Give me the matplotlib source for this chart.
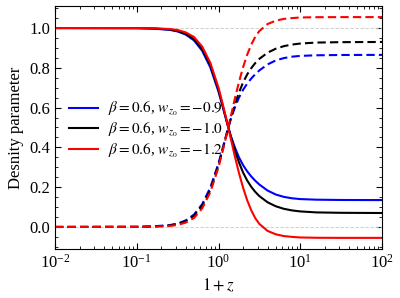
import numpy as np
import matplotlib
matplotlib.use("Agg")
import matplotlib.pyplot as plt
from matplotlib.ticker import MultipleLocator

plt.rcParams['font.family'] = ['Liberation Serif', 'DejaVu Serif']
plt.rcParams['mathtext.fontset'] = 'stix'

# log10(1+z) sample points
log_1pz = [-2.0, -1.0, -0.8, -0.6, -0.5, -0.4, -0.3, -0.2, -0.1, 0.0, 0.05,
           0.1, 0.15, 0.2, 0.25, 0.3, 0.35, 0.4, 0.45, 0.5, 0.6, 0.7, 0.8,
           0.9, 1.0, 1.2, 1.5, 2.0]

# solid: dark energy density parameter
de_m09 = [1.0, 0.9993, 0.997, 0.991, 0.983, 0.967, 0.938, 0.886, 0.802, 0.680, 0.606,
          0.530, 0.458, 0.400, 0.350, 0.311, 0.280, 0.254, 0.232, 0.213, 0.183, 0.163, 0.151,
          0.144, 0.140, 0.137, 0.1355, 0.135]
de_m10 = [1.0, 0.9995, 0.998, 0.993, 0.985, 0.971, 0.944, 0.894, 0.815, 0.690, 0.612,
          0.532, 0.455, 0.385, 0.325, 0.274, 0.234, 0.202, 0.176, 0.155, 0.124, 0.104, 0.091,
          0.083, 0.078, 0.073, 0.071, 0.070]
de_m12 = [1.0, 0.9997, 0.999, 0.995, 0.990, 0.978, 0.955, 0.907, 0.825, 0.700, 0.620,
          0.535, 0.445, 0.355, 0.272, 0.198, 0.135, 0.084, 0.044, 0.015, -0.020, -0.037, -0.046,
          -0.050, -0.053, -0.0545, -0.055, -0.055]

# dashed: matter density parameter
m_m09 = [0.0, 0.0007, 0.003, 0.009, 0.017, 0.033, 0.062, 0.114, 0.198, 0.320, 0.394,
         0.470, 0.542, 0.600, 0.650, 0.689, 0.720, 0.746, 0.768, 0.787, 0.817, 0.837, 0.849,
         0.856, 0.860, 0.863, 0.8645, 0.865]
m_m10 = [0.0, 0.0005, 0.002, 0.007, 0.015, 0.029, 0.056, 0.106, 0.185, 0.310, 0.388,
         0.468, 0.545, 0.615, 0.675, 0.726, 0.766, 0.798, 0.824, 0.845, 0.876, 0.896, 0.909,
         0.917, 0.922, 0.927, 0.929, 0.930]
m_m12 = [0.0, 0.0003, 0.001, 0.005, 0.010, 0.022, 0.045, 0.093, 0.175, 0.300, 0.380,
         0.465, 0.555, 0.645, 0.728, 0.802, 0.865, 0.916, 0.956, 0.985, 1.020, 1.037, 1.046,
         1.050, 1.053, 1.0545, 1.055, 1.055]

labels = [r"$\beta=0.6$, $w_{z_0}=-0.9$",
          r"$\beta=0.6$, $w_{z_0}=-1.0$",
          r"$\beta=0.6$, $w_{z_0}=-1.2$"]
colors = ["blue", "black", "red"]

x = 10 ** np.array(log_1pz)

fig = plt.figure(figsize=(4.0, 2.98), dpi=100)
ax = fig.add_axes([0.1375, 0.1644, 0.8175, 0.8156])

ax.axhline(1.0, color="0.78", ls="--", lw=0.6, dashes=(4, 2))
ax.axhline(0.0, color="0.78", ls="--", lw=0.6, dashes=(4, 2))

for de, m, c, lab in zip([de_m09, de_m10, de_m12], [m_m09, m_m10, m_m12], colors, labels):
    ax.plot(x, de, color=c, lw=1.5, label=lab)
    ax.plot(x, m, color=c, lw=1.5, ls="--", dashes=(4, 2))

ax.set_xscale("log")
ax.set_xlim(1e-2, 1e2)
ax.set_ylim(-0.111, 1.111)
ax.yaxis.set_major_locator(MultipleLocator(0.2))
ax.yaxis.set_minor_locator(MultipleLocator(0.05))
ax.tick_params(which="both", direction="in", top=True, right=True, labelsize=12)
ax.tick_params(which="major", length=4)
ax.tick_params(which="minor", length=2)

ax.set_xlabel(r"$1+z$", fontsize=12)
ax.set_ylabel("Desnity parameter", fontsize=12)

ax.legend(loc="upper left", bbox_to_anchor=(0.0, 0.67), frameon=False,
          fontsize=11, handlelength=1.9, handletextpad=0.7, labelspacing=0.15)

fig.savefig("out.png", dpi=100)
